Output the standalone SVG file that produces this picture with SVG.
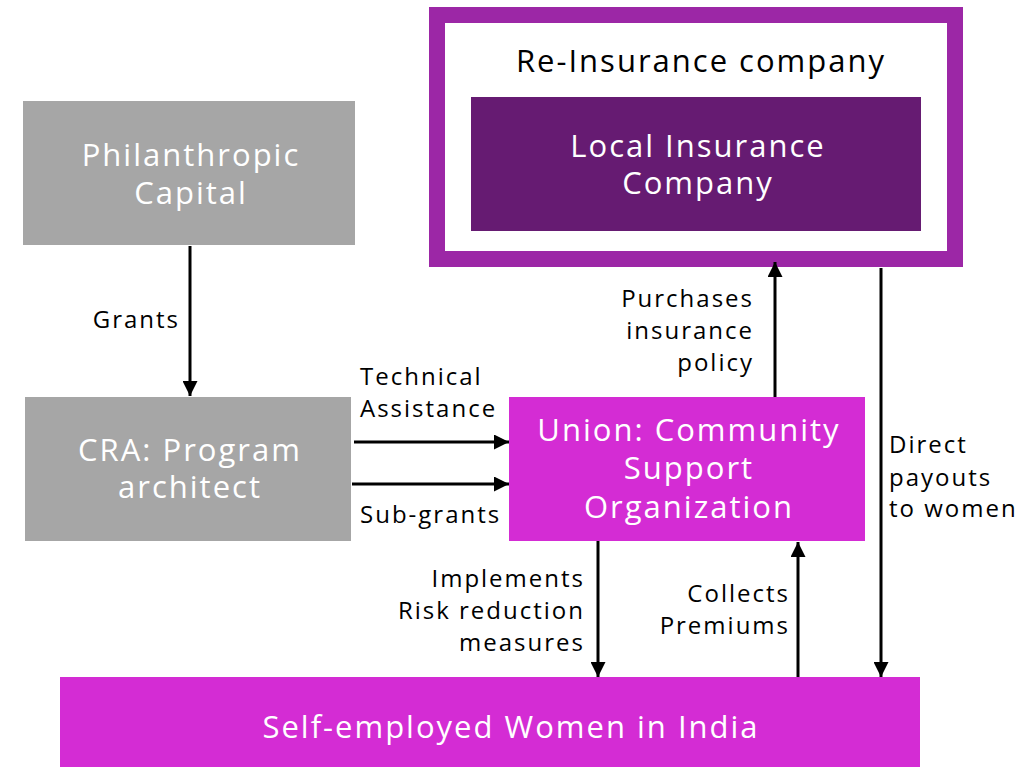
<svg xmlns="http://www.w3.org/2000/svg" width="1031" height="767" viewBox="0 0 1031 767">
<style>
.big{font-family:"Open Sans","Noto Sans",sans-serif;font-size:31px;letter-spacing:2px;fill:#fff;text-anchor:middle}
.lbl{font-family:"Open Sans","Noto Sans",sans-serif;font-size:24px;letter-spacing:2px;fill:#000}
.r{text-anchor:end}
.c{stroke:#000;stroke-width:3;fill:none;marker-end:url(#ah)}
</style>
<defs>
<marker id="ah" viewBox="0 0 10 10" refX="10" refY="5" markerWidth="5" markerHeight="5" orient="auto" markerUnits="strokeWidth">
<path d="M0,0 L10,5 L0,10 z" fill="#000"/>
</marker>
</defs>
<rect width="1031" height="767" fill="#fff"/>
<g id="reinsurance">
<rect x="437" y="15" width="518" height="244" fill="#fff" stroke="#9C27A6" stroke-width="16"/>
<text class="big" x="701" y="72" style="fill:#000">Re-Insurance company</text>
</g>
<g id="local-insurance">
<rect x="471" y="97" width="450" height="134" fill="#661B72"/>
<text class="big" x="698" y="157">Local Insurance</text>
<text class="big" x="698" y="194">Company</text>
</g>
<g id="philanthropic">
<rect x="23" y="101" width="332" height="144" fill="#A6A6A6"/>
<text class="big" x="191" y="166">Philanthropic</text>
<text class="big" x="191" y="204">Capital</text>
</g>
<g id="cra">
<rect x="25" y="397" width="326" height="144" fill="#A6A6A6"/>
<text class="big" x="190" y="461">CRA: Program</text>
<text class="big" x="190" y="498">architect</text>
</g>
<g id="union">
<rect x="509" y="397" width="356" height="144" fill="#D42CD4"/>
<text class="big" x="689" y="441">Union: Community</text>
<text class="big" x="689" y="479">Support</text>
<text class="big" x="689" y="518">Organization</text>
</g>
<g id="women">
<rect x="60" y="677" width="860" height="90" fill="#D42CD4"/>
<text class="big" x="511" y="738">Self-employed Women in India</text>
</g>
<g id="connectors">
<line class="c" x1="190" y1="246" x2="190" y2="396"/>
<line class="c" x1="354" y1="442" x2="509" y2="442"/>
<line class="c" x1="352" y1="484" x2="509" y2="484"/>
<line class="c" x1="775" y1="397" x2="775" y2="262"/>
<line class="c" x1="881" y1="268" x2="881" y2="677"/>
<line class="c" x1="598" y1="541" x2="598" y2="677"/>
<line class="c" x1="798" y1="677" x2="798" y2="542"/>
</g>
<g id="labels">
<text class="lbl r" x="180" y="328">Grants</text>
<text class="lbl" x="360" y="385">Technical</text>
<text class="lbl" x="360" y="417">Assistance</text>
<text class="lbl" x="360" y="523">Sub-grants</text>
<text class="lbl r" x="754" y="307">Purchases</text>
<text class="lbl r" x="754" y="339">insurance</text>
<text class="lbl r" x="754" y="371">policy</text>
<text class="lbl" x="889" y="453">Direct</text>
<text class="lbl" x="889" y="486">payouts</text>
<text class="lbl" x="889" y="517">to women</text>
<text class="lbl r" x="585" y="587">Implements</text>
<text class="lbl r" x="585" y="619">Risk reduction</text>
<text class="lbl r" x="585" y="651">measures</text>
<text class="lbl r" x="790" y="602">Collects</text>
<text class="lbl r" x="790" y="634">Premiums</text>
</g>
</svg>
